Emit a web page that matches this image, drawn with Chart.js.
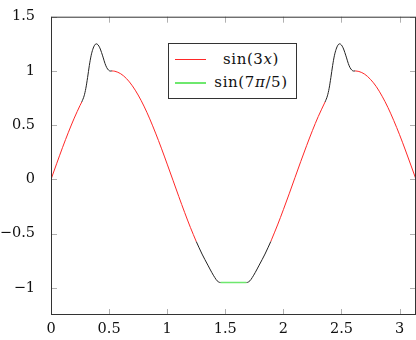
<!DOCTYPE html>
<html>
<head>
<meta charset="utf-8">
<script src="https://cdn.jsdelivr.net/npm/chart.js@4/dist/chart.umd.min.js"></script>
<style>
html,body{margin:0;padding:0;background:#fff;}
#wrap{position:relative;width:416px;height:340px;}
#legend{position:absolute;left:168px;top:43px;width:127px;height:54px;border:1px solid #333;background:#fff;font-family:"DejaVu Serif",serif;font-size:15px;color:#111;}
.row{position:absolute;left:0;width:127px;height:22px;}
.swatch{position:absolute;left:6px;width:31px;top:11px;height:0;}
.txt{position:absolute;left:39px;width:86px;text-align:center;white-space:nowrap;line-height:22px;letter-spacing:0.6px;}
</style>
</head>
<body>
<div id="wrap">
<canvas id="c" width="416" height="340"></canvas>
<div id="legend"></div>
</div>
<script>
// ---- data ----
const xTicks = [0, 0.5, 1, 1.5, 2, 2.5, 3];
const yTicks = [-1, -0.5, 0, 0.5, 1, 1.5];
const xMin = 0, xMax = 3.14159, yMin = -1.25, yMax = 1.5;

const redLabel = 'sin(3x)';
const greenLabel = 'sin(7π/5)';

const redX = [0,0.05,0.10,0.15,0.20,0.25,0.265, null,
  0.524,0.55,0.60,0.65,0.70,0.75,0.80,0.85,0.90,0.95,1.00,1.05,1.10,1.15,1.20,1.25, null,
  1.892,1.90,1.95,2.00,2.05,2.10,2.15,2.20,2.25,2.30,2.359, null,
  2.618,2.65,2.70,2.75,2.80,2.85,2.90,2.95,3.00,3.05,3.10,3.1416];
const redY = [0,0.149,0.296,0.435,0.565,0.682,0.714, null,
  1.0,0.997,0.974,0.929,0.863,0.778,0.676,0.558,0.427,0.288,0.141,-0.008,-0.158,-0.304,-0.443,-0.572, null,
  -0.572,-0.551,-0.420,-0.279,-0.133,0.017,0.166,0.311,0.450,0.579,0.714, null,
  1.0,0.995,0.970,0.922,0.855,0.767,0.663,0.543,0.412,0.271,0.124,0];

const blackX = [0.265,0.285,0.300,0.315,0.330,0.345,0.360,0.375,0.390,0.405,0.420,0.435,0.450,0.465,0.480,0.495,0.510,0.524, null,
  1.25,1.30,1.35,1.385,1.41,1.43,1.45,1.46, null,
  1.682,1.692,1.712,1.732,1.757,1.792,1.842,1.892, null,
  2.359,2.379,2.394,2.409,2.424,2.439,2.454,2.469,2.484,2.499,2.514,2.529,2.544,2.559,2.574,2.589,2.604,2.618];
const blackY = [0.714,0.77,0.84,0.94,1.05,1.14,1.20,1.237,1.25,1.24,1.213,1.17,1.12,1.068,1.03,1.008,0.999,1.0, null,
  -0.572,-0.688,-0.79,-0.86,-0.905,-0.935,-0.949,-0.951, null,
  -0.951,-0.949,-0.935,-0.905,-0.86,-0.79,-0.688,-0.572, null,
  0.714,0.77,0.84,0.94,1.05,1.14,1.20,1.237,1.25,1.24,1.213,1.17,1.12,1.068,1.03,1.008,0.999,1.0];

const greenX = [1.46, 1.682];
const greenY = [-0.951, -0.951];

// ---- helpers ----
function pts(xs, ys) {
  const out = [];
  let last = 0;
  for (let i = 0; i < xs.length; i++) {
    if (xs[i] === null) { out.push({x: last, y: null}); }
    else { last = xs[i]; out.push({x: xs[i], y: ys[i]}); }
  }
  return out;
}
function fmt(v) {
  const s = String(Math.round(v * 100) / 100);
  return s.replace('-', '\u2212');
}
const FONT = {family: '"DejaVu Serif", serif', size: 14.5};
const RED = 'rgb(255,40,40)', GREEN = 'rgb(110,232,110)', BLACK = '#222';

const frame = {
  id: 'frame',
  afterDatasetsDraw(chart) {
    const {ctx, chartArea: a, scales: {x, y}} = chart;
    ctx.save();
    ctx.strokeStyle = '#b0b0b0';
    ctx.lineWidth = 1;
    const L = 6;
    ctx.beginPath();
    x.ticks.forEach(t => {
      const px = Math.round(x.getPixelForValue(t.value)) + 0.5;
      ctx.moveTo(px, a.bottom); ctx.lineTo(px, a.bottom - L);
      ctx.moveTo(px, a.top); ctx.lineTo(px, a.top + L);
    });
    y.ticks.forEach(t => {
      const py = Math.round(y.getPixelForValue(t.value)) + 0.5;
      ctx.moveTo(a.left, py); ctx.lineTo(a.left + L, py);
      ctx.moveTo(a.right, py); ctx.lineTo(a.right - L, py);
    });
    ctx.stroke();
    ctx.strokeStyle = '#333';
    ctx.strokeRect(a.left + 0.5, a.top + 0.5, a.right - a.left - 1, a.bottom - a.top - 1);
    ctx.restore();
  }
};

const chart = new Chart(document.getElementById('c'), {
  type: 'line',
  data: {
    datasets: [
      {label: redLabel, data: pts(redX, redY), borderColor: RED, borderWidth: 1, pointRadius: 0, cubicInterpolationMode: 'monotone', spanGaps: false},
      {label: greenLabel, data: pts(greenX, greenY), borderColor: GREEN, borderWidth: 1.4, pointRadius: 0},
      {label: '', data: pts(blackX, blackY), borderColor: BLACK, borderWidth: 1, pointRadius: 0, cubicInterpolationMode: 'monotone', spanGaps: false}
    ]
  },
  options: {
    responsive: false,
    animation: false,
    layout: {padding: {left: 0, right: 0, top: 12, bottom: 0}},
    plugins: {legend: {display: false}, tooltip: {enabled: false}},
    scales: {
      x: {
        type: 'linear', min: xMin, max: xMax,
        afterBuildTicks: s => { s.ticks = xTicks.map(v => ({value: v})); },
        afterFit: s => { s.height = 25; },
        grid: {display: false}, border: {display: false},
        ticks: {callback: v => fmt(v), font: FONT, color: '#111', padding: -2, maxRotation: 0, autoSkip: false}
      },
      y: {
        type: 'linear', min: yMin, max: yMax,
        afterBuildTicks: s => { s.ticks = yTicks.map(v => ({value: v})); },
        afterFit: s => { s.width = 51; },
        grid: {display: false}, border: {display: false},
        ticks: {callback: v => fmt(v), font: FONT, color: '#111', padding: 8, autoSkip: false}
      }
    }
  },
  plugins: [frame]
});

// HTML legend built from labelled datasets
const leg = document.getElementById('legend');
chart.data.datasets.filter(d => d.label).forEach((d, i) => {
  const row = document.createElement('div');
  row.className = 'row';
  row.style.top = (4 + i * 23) + 'px';
  const sw = document.createElement('div');
  sw.className = 'swatch';
  sw.style.borderTop = (d.borderWidth > 1 ? 2 : 1) + 'px solid ' + d.borderColor;
  const tx = document.createElement('div');
  tx.className = 'txt';
  tx.innerHTML = d.label.replace(/x|π/g, m => '<i>' + m + '</i>');
  row.appendChild(sw); row.appendChild(tx);
  leg.appendChild(row);
});
</script>
</body>
</html>
